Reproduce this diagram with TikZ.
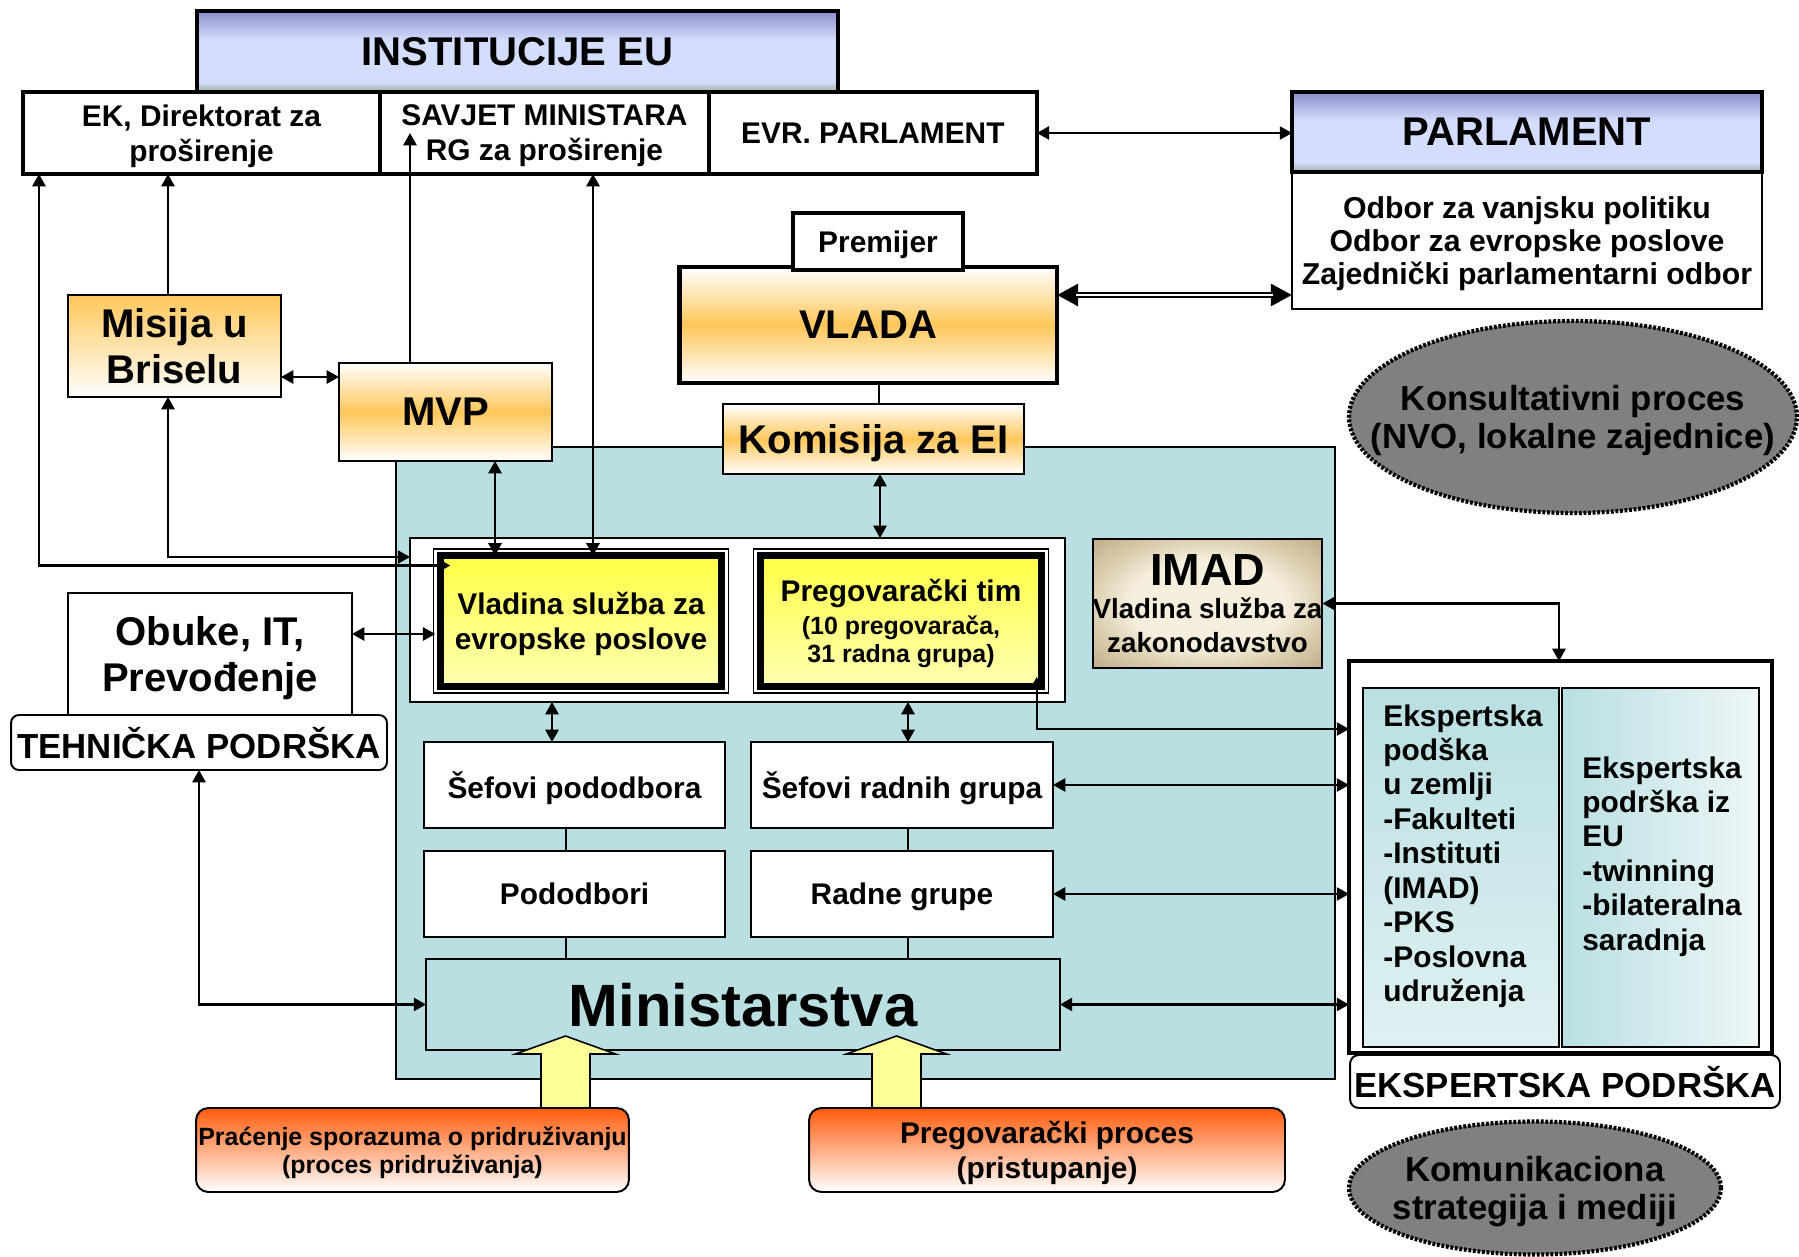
\documentclass[tikz,border=0pt]{standalone}
\usepackage{fontspec}
\setmainfont{Liberation Sans}
\usetikzlibrary{arrows.meta,calc,shapes.geometric,positioning}

\definecolor{tealbg}{HTML}{B9DFE2}
\definecolor{orangemid}{HTML}{FFC75A}
\definecolor{bluetop}{HTML}{8A8ECB}
\definecolor{bluelight}{HTML}{D3DDFE}
\definecolor{bluelow}{HTML}{9FAE9F}
\definecolor{yellowtop}{HTML}{FFFF45}
\definecolor{yellowlow}{HTML}{FFFFB4}
\definecolor{redtop}{HTML}{FF5C0C}
\definecolor{imaddark}{HTML}{BDAB84}
\definecolor{imadmid}{HTML}{DDD0B2}
\definecolor{imadlight}{HTML}{F6EFDE}
\definecolor{ovalgray}{HTML}{808080}
\definecolor{fatyellow}{HTML}{FFFF99}

\pgfdeclareverticalshading{eubar}{100bp}{color(0bp)=(bluelow); color(25bp)=(bluelow); color(31bp)=(bluelight); color(57bp)=(bluelight); color(75bp)=(bluetop); color(100bp)=(bluetop)}
\pgfdeclareradialshading{imadglow}{\pgfpoint{0bp}{0bp}}{color(0bp)=(imadlight); color(17bp)=(imadlight); color(25bp)=(imadmid); color(36bp)=(imaddark); color(50bp)=(imaddark)}

\begin{document}
\begin{tikzpicture}[x=0.02cm, y=-0.02cm,
    box/.style={draw, line width=1.1pt, align=center, inner sep=0pt, outer sep=0pt, text depth=0pt},
    thickbox/.style={box, line width=2.4pt},
    orangebox/.style={box, top color=white, bottom color=white, middle color=orangemid},
    eubox/.style={thickbox, shade, shading=eubar},
    yellowbox/.style={box, line width=4pt, top color=yellowtop, bottom color=yellowlow},
    redbox/.style={box, rounded corners=7pt, top color=redtop, bottom color=white},
    oval/.style={ellipse, draw, fill=ovalgray, line width=2.4pt, dash pattern=on 1.6pt off 1pt, inner sep=0pt, outer sep=0pt},
    hugef/.style={font=\bfseries\fontsize{34}{38}\selectfont},
    bigf/.style={font=\bfseries\fontsize{22.8}{26}\selectfont},
    labf/.style={font=\bfseries\fontsize{19.8}{21.6}\selectfont},
    medf/.style={font=\bfseries\fontsize{17}{20}\selectfont},
    smallf/.style={font=\bfseries\fontsize{14.2}{16}\selectfont},
    link/.style={line width=1.2pt},
    uplink/.style={link, -{Triangle[length=7pt,width=7.5pt]}},
    bilink/.style={link, {Triangle[length=7pt,width=7.5pt]}-{Triangle[length=7pt,width=7.5pt]}},
    fatarrow/.style={draw, line width=0.9pt, fill=fatyellow, line join=miter}]
\useasboundingbox (0,0) rectangle (1799,1257);

\draw[line width=1.1pt, fill=tealbg] (396,447) rectangle (1335,1079);

\node[eubox, bigf, minimum width=12.82cm, minimum height=1.62cm] (inst) at (517.5,51.5) {INSTITUCIJE EU};
\node[thickbox, medf, fill=white, minimum width=7.14cm, minimum height=1.64cm] (ek) at (201.5,133) {EK, Direktorat za\\proširenje};
\node[thickbox, medf, fill=white, minimum width=6.58cm, minimum height=1.64cm, right=0pt of ek] (savjet) {SAVJET MINISTARA\\RG za proširenje};
\node[thickbox, medf, fill=white, minimum width=6.56cm, minimum height=1.64cm, right=0pt of savjet] (evr) {EVR. PARLAMENT};

\node[box, fill=white, font=\bfseries\fontsize{17.2}{19}\selectfont, minimum width=9.4cm, minimum height=2.74cm] (odbori) at (1527,240.5) {Odbor za vanjsku politiku\\Odbor za evropske poslove\\Zajednički parlamentarni odbor};
\node[eubox, bigf, minimum width=9.4cm, minimum height=1.6cm, above=0pt of odbori] (parl) {PARLAMENT};

\node[orangebox, bigf, line width=2.8pt, minimum width=7.56cm, minimum height=2.32cm] (vlada) at (868,325) {VLADA};
\node[thickbox, medf, fill=white, minimum width=3.4cm, minimum height=1.14cm] (premijer) at (878,241.5) {Premijer};
\node[orangebox, bigf, minimum width=6.02cm, minimum height=1.4cm] (komisija) at (873.5,439) {Komisija za EI};
\node[box, bigf, top color=orangemid, bottom color=white, minimum width=4.26cm, minimum height=2.04cm] (misija) at (174.5,346) {Misija u\\Briselu};
\node[orangebox, bigf, minimum width=4.26cm, minimum height=1.96cm] (mvp) at (445.5,412) {MVP};

\node[box, fill=white, minimum width=13.1cm, minimum height=3.28cm] (core) at (737.5,620) {};
\node[yellowbox, medf, minimum width=5.63cm, minimum height=2.62cm] (vladina) at (581,621) {Vladina služba za\\evropske poslove};
\node[yellowbox, font=\bfseries\fontsize{17}{16}\selectfont, minimum width=5.63cm, minimum height=2.62cm] (pregov) at (901,621)
    {Pregovarački tim\\[2.5pt]{\fontsize{14.2}{16}\selectfont (10 pregovarača,}\\{\fontsize{14.2}{16}\selectfont 31 radna grupa)}};
\foreach \n in {vladina, pregov}
  \draw[line width=0.8pt] ($(\n.north west)+(-6.5,-6.5)$) rectangle ($(\n.south east)+(6.5,6.5)$);

\node[box, shade, shading=imadglow, font=\bfseries\fontsize{15.8}{19}\selectfont, minimum width=4.54cm, minimum height=2.58cm] (imad) at (1207.5,603.5)
    {{\fontsize{25.6}{19}\selectfont IMAD}\\Vladina služba za\\zakonodavstvo};

\node[box, bigf, fill=white, minimum width=5.68cm, minimum height=2.44cm] (obuke) at (210,654) {Obuke, IT,\\Prevođenje};
\node[box, labf, fill=white, rounded corners=4.5pt, minimum width=7.52cm, minimum height=1.1cm] (tehnicka) at (199,742.5) {TEHNIČKA PODRŠKA};

\node[box, medf, fill=white, minimum width=6.02cm, minimum height=1.72cm] (sefpod) at (574.5,785) {Šefovi pododbora};
\node[box, medf, fill=white, minimum width=6.04cm, minimum height=1.72cm] (sefrad) at (902,785) {Šefovi radnih grupa};
\node[box, medf, fill=white, minimum width=6.02cm, minimum height=1.72cm, below=0.46cm of sefpod] (pododbori) {Pododbori};
\node[box, medf, fill=white, minimum width=6.04cm, minimum height=1.72cm, below=0.46cm of sefrad] (radne) {Radne grupe};
\node[box, hugef, fill=tealbg, minimum width=12.68cm, minimum height=1.82cm] (ministarstva) at (743,1004.5) {Ministarstva};

\node[box, line width=1.8pt, fill=white, minimum width=8.46cm, minimum height=7.84cm] (eksp) at (1560.5,857) {};
\node[box, top color=tealbg, bottom color=tealbg!45!white, minimum width=3.92cm, minimum height=7.18cm] (ekspzem) at (1461,867.5) {};
\node[box, left color=tealbg, right color=tealbg!25!white, minimum width=3.94cm, minimum height=7.18cm] (ekspeu) at (1660.5,867.5) {};
\node[font=\bfseries\fontsize{17}{19.6}\selectfont, align=left, anchor=north west, inner sep=0pt] (zemtxt) at ($(ekspzem.north west)+(20,16)$)
    {Ekspertska\\podška\\u zemlji\\-Fakulteti\\-Instituti\\(IMAD)\\-PKS\\-Poslovna\\udruženja};
\node[font=\bfseries\fontsize{17}{19.6}\selectfont, align=left, anchor=north west, inner sep=0pt] (eutxt) at ($(ekspeu.north west)+(20,68)$)
    {Ekspertska\\podrška iz\\EU\\-twinning\\-bilateralna\\saradnja};
\node[box, labf, fill=white, rounded corners=5pt, minimum width=8.6cm, minimum height=1.06cm] (ekspnaslov) at (1565,1081.5) {EKSPERTSKA PODRŠKA};

\node[oval, minimum width=8.96cm, minimum height=3.84cm, label={[labf, text depth=0pt, align=center]center:{Konsultativni proces\\(NVO, lokalne zajednice)}}] (konsult) at (1573,417) {};
\node[oval, minimum width=7.44cm, minimum height=2.66cm, label={[labf, text depth=0pt, align=center]center:{Komunikaciona\\strategija i mediji}}] (komunik) at (1535,1188) {};

\node[redbox, smallf, minimum width=8.66cm, minimum height=1.68cm] (pracenje) at (412.5,1150) {Praćenje sporazuma o pridruživanju\\(proces pridruživanja)};
\node[redbox, medf, minimum width=9.52cm, minimum height=1.68cm] (pregproc) at (1047,1150) {Pregovarački proces\\(pristupanje)};

\draw[bilink] (evr.east) -- (evr.east -| parl.west);
\draw[line width=3.6pt, {Triangle[length=12pt,width=12pt]}-{Triangle[length=12pt,width=12pt]}] (vlada.east |- 0,295) -- (odbori.west |- 0,295);
\draw[white, line width=1.4pt, shorten <=11pt, shorten >=11pt] (vlada.east |- 0,295) -- (odbori.west |- 0,295);
\draw[link] (879,0 |- vlada.south) -- (879,0 |- komisija.north);
\draw[bilink] (misija.east |- 0,377) -- (mvp.west |- 0,377);
\draw[uplink] (168,0 |- misija.north) -- (168,0 |- ek.south);
\draw[uplink] (410,0 |- mvp.north) -- (410,0 |- savjet.center);
\draw[bilink] (593,0 |- savjet.south) -- (593,0 |- vladina.north);
\draw[bilink] (495,0 |- mvp.south) -- (495,0 |- vladina.north);
\draw[bilink] (880,0 |- komisija.south) -- (880,0 |- core.north);
\draw[bilink] (39,0 |- ek.south) |- ($(vladina.north west)+(10,10)$);
\draw[bilink] (168,0 |- misija.south) |- (core.west |- 0,557);
\draw[bilink] (obuke.east |- 0,634) -- ($(vladina.west |- 0,634)+(-5,0)$);
\draw[bilink] (tehnicka.south) |- (ministarstva.west);
\draw[bilink] (552,0 |- core.south) -- (552,0 |- sefpod.north);
\draw[bilink] (908,0 |- core.south) -- (908,0 |- sefrad.north);
\foreach \a/\b/\lx in {sefpod/pododbori/566, pododbori/ministarstva/566, sefrad/radne/908, radne/ministarstva/908}
  \draw[line width=0.8pt] (\lx,0 |- \a.south) -- (\lx,0 |- \b.north);
\draw[bilink] (imad.east) -| (ekspzem.east |- eksp.north);
\draw[bilink] ($(pregov.south east)+(-5,-9.5)$) |- (eksp.west |- 0,729);
\foreach \src in {sefrad, radne, ministarstva}
  \draw[bilink] (\src.east) -- (eksp.west |- \src.east);

\foreach \ax/\src in {565.5/pracenje, 896.5/pregproc}
  \draw[fatarrow] (\ax-24.5,0 |- \src.north) -- (\ax-24.5,1054) -- (\ax-50,1054) -- (\ax,1036)
    -- (\ax+50,1054) -- (\ax+24.5,1054) -- (\ax+24.5,0 |- \src.north) -- cycle;

\end{tikzpicture}
\end{document}
